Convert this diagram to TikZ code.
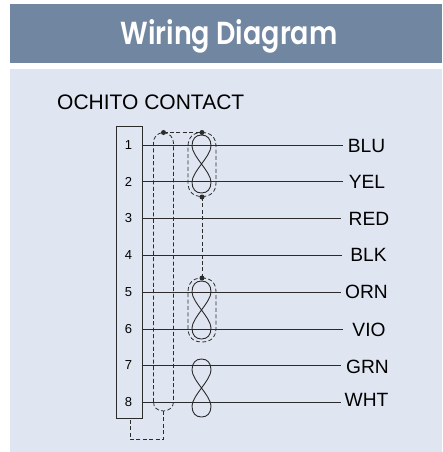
\documentclass[tikz,border=0pt]{standalone}
\usepackage{fontspec}
\setmainfont{Liberation Sans}
\newfontfamily\headfont{Poppins SemiBold}
\definecolor{hdr}{HTML}{7186A1}
\definecolor{bodybg}{HTML}{DFE6F1}
\definecolor{ink}{HTML}{2B2B2B}
\tikzset{
  x=1pt,y=-1pt,
  wirepath/.style={draw=ink,line width=0.9pt},
  shieldline/.style={draw=ink,line width=0.8pt,dash pattern=on 4pt off 2.4pt},
  dotmark/.style={circle,fill=ink,inner sep=0pt,minimum size=5pt},
  pinlabel/.style={font=\fontsize{13}{15}\selectfont,inner sep=0pt,text=black},
  wirelabel/.style={font=\fontsize{19.2}{22}\selectfont,inner sep=0pt,text=black},
}
\newcommand{\twist}[1]{%
  \draw[wirepath] (201.5,#1-29) .. controls (195.5,#1-29) and (192,#1-25) .. (192,#1-18)
     .. controls (192,#1-8) and (211,#1+8) .. (211,#1+18)
     .. controls (211,#1+25) and (207.5,#1+29) .. (201.5,#1+29)
     .. controls (195.5,#1+29) and (192,#1+25) .. (192,#1+18)
     .. controls (192,#1+8) and (211,#1-8) .. (211,#1-18)
     .. controls (211,#1-25) and (207.5,#1-29) .. (201.5,#1-29);}
\newcommand{\twistshield}[1]{%
  \draw[shieldline] (202,#1-32) .. controls (211,#1-32) and (216,#1-27) .. (216,#1-18) -- (216,#1+18)
     .. controls (216,#1+27) and (211,#1+32) .. (202,#1+32)
     .. controls (193,#1+32) and (188,#1+27) .. (188,#1+18) -- (188,#1-18)
     .. controls (188,#1-27) and (193,#1-32) .. (202,#1-32);}
\begin{document}
\begin{tikzpicture}
\useasboundingbox (0,0) rectangle (442,452);
\fill[white] (0,0) rectangle (442,452);
\fill[hdr] (10,4) rectangle (442,63);
\fill[bodybg] (10,69) rectangle (442,452);
\node[font=\headfont\fontsize{27}{32}\selectfont,text=white,inner sep=0pt,anchor=base] (title) at (229,45) {\scalebox{1}[1.18]{Wiring Diagram}};
\node[font=\fontsize{21}{24}\selectfont,anchor=west,inner sep=0pt,text=black] (head) at (57,102) {OCHITO CONTACT};
% connector
\node[draw=ink,line width=0.85pt,minimum width=26.5pt,minimum height=292pt,inner sep=0pt,anchor=north west] (box) at (115.5,126) {};
% wires
\foreach \n/\y/\e/\lab/\lx/\ly in {1/145/343/BLU/366.5/145.5, 2/181.5/343/YEL/367/181.5, 3/218/341/RED/369/218.5, 4/255/341.5/BLK/368.5/255, 5/292/341/ORN/366.5/291.5, 6/329/343/VIO/369/330, 7/365.5/341/GRN/367.5/367, 8/402/341/WHT/366.5/400}{
  \node[pinlabel] (p\n) at (128.5,\y) {\n};
  \node[wirelabel] (w\n) at (\lx,\ly) {\lab};
  \coordinate (e\n) at (\e,\y);
  \draw[wirepath] (142,\y) -- (e\n);
}
% outer shield
\coordinate (dA) at (163.5,132.5);
\coordinate (dB) at (202,132.5);
\coordinate (dC) at (202,197);
\coordinate (dD) at (202,278);
\coordinate (sb) at (163.5,411);
\coordinate (c1) at (163.5,439);
\coordinate (c2) at (130,439);
\coordinate (c3) at (130,418);
\draw[shieldline] (153.5,402) -- (153.5,143) .. controls (153.5,137) and (157,133) .. (dA)
   .. controls (169,133) and (173.5,137) .. (173.5,143) -- (173.5,402)
   .. controls (173.5,407) and (169,411) .. (sb) .. controls (157,411) and (153.5,407) .. (153.5,402);
\draw[shieldline] (dA) -- (dB);
\draw[shieldline] (sb) -- (c1) -- (c2) -- (c3);
\draw[shieldline] (dC) -- (dD);
\twistshield{164.5}
\twistshield{310}
\twist{164}
\twist{310}
\twist{388}
\node[dotmark] (nA) at (dA) {};
\node[dotmark] (nB) at (dB) {};
\node[dotmark] (nC) at (dC) {};
\node[dotmark] (nD) at (dD) {};
\end{tikzpicture}
\end{document}
